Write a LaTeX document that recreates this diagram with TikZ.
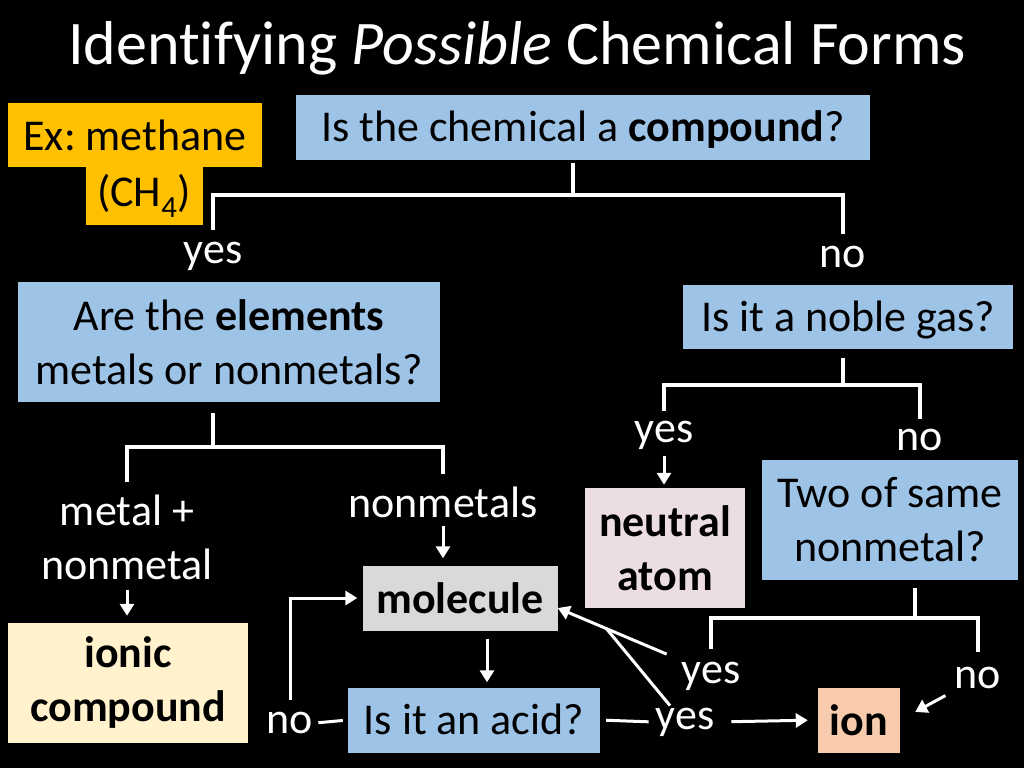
\documentclass[tikz,border=0pt]{standalone}
\usepackage{fontspec}
\setmainfont{Carlito}[Ligatures=NoCommon]
\usetikzlibrary{arrows.meta,calc}
\frenchspacing

\definecolor{qblue}{HTML}{9DC3E6}
\definecolor{exgold}{HTML}{FFC000}
\definecolor{ioniccol}{HTML}{FFF2CC}
\definecolor{atomcol}{HTML}{EBDDE3}
\definecolor{molcol}{HTML}{D9D9D9}
\definecolor{ioncol}{HTML}{F8CBAD}

\tikzstyle{question} = [rectangle, fill=qblue, text=black, align=center,
inner sep=0pt, font=\fontsize{44}{54}\selectfont]
\tikzstyle{oneline} = [text height=35pt, text depth=6pt]
\tikzstyle{result} = [rectangle, text=black, align=center, inner sep=0pt,
font=\fontsize{44}{54}\selectfont\bfseries]
\tikzstyle{example} = [rectangle, fill=exgold, text=black, inner sep=0pt,
font=\fontsize{44}{54}\selectfont]
\tikzstyle{answer} = [text=white, align=center, inner sep=2pt,
font=\fontsize{44}{54}\selectfont]
\tikzstyle{line} = [white, line width=3.5pt]
\tikzstyle{arrow} = [white, line width=3pt, -{Triangle[length=12pt,width=14pt]}]

\begin{document}
\begin{tikzpicture}[x=1pt, y=-1pt]
    \fill [black] (0,0) rectangle (1024,768);

    \node (title) [text=white, font=\fontsize{62}{72}\selectfont] at (517,48)
        {Identifying \textit{Possible} Chemical Forms};
    \node (ex1) [example, minimum width=254pt, minimum height=64pt] at (135,135) {Ex: methane};
    \node (ex2) [example, minimum width=117pt, minimum height=58pt] at (144,196) {(CH\textsubscript{4})};

    \node (compound) [question, oneline, minimum width=574pt, minimum height=65pt] at (583,127)
        {Is the chemical a \textbf{compound}?};
    \node (yes1) [answer] at (213,256) {yes};
    \node (no1) [answer] at (843,257) {no};

    \node (elements) [question, minimum width=422pt, minimum height=120pt] at (229,342)
        {Are the \textbf{elements}\\metals or nonmetals?};
    \node (noble) [question, oneline, minimum width=330pt, minimum height=64pt] at (848,317)
        {Is it a noble gas?};

    \node (mnm) [answer] at (127,537) {metal +\\nonmetal};
    \node (nonmet) [answer] at (443,502) {nonmetals};
    \node (yes2) [answer] at (664,435) {yes};
    \node (no2) [answer] at (920,440) {no};

    \node (ionic) [result, fill=ioniccol, minimum width=240pt, minimum height=120pt] at (128,683)
        {ionic\\compound};
    \node (molecule) [result, fill=molcol, minimum width=195pt, minimum height=65pt] at (460,598)
        {molecule};
    \node (atom) [result, fill=atomcol, minimum width=160pt, minimum height=120pt] at (665,548)
        {neutral\\atom};
    \node (two) [question, minimum width=256pt, minimum height=120pt] at (890,520)
        {Two of same\\nonmetal?};

    \node (yes3) [answer] at (711,676) {yes};
    \node (no3) [answer] at (978,678) {no};
    \node (acid) [question, oneline, minimum width=252pt, minimum height=65pt] at (474,720)
        {Is it an acid?};
    \node (noacid) [answer] at (290,723) {no};
    \node (yesacid) [answer] at (685,722) {yes};
    \node (ion) [result, fill=ioncol, minimum width=82pt, minimum height=65pt] at (859,720)
        {ion};

    \coordinate (fork1) at (573,195);
    \coordinate (fork2) at (213,447);
    \coordinate (fork3) at (843,385);
    \coordinate (fork4) at (915,618);
    \coordinate (molin) at ([yshift=-10pt]molecule.east);

    \draw [line] (compound.south -| fork1) ++(0,3) -- (fork1);
    \draw [line] ([yshift=10pt]yes1.north) |- (fork1) -| ([yshift=10pt]no1.north);
    \draw [line] (elements.south -| fork2) ++(0,11) -- (fork2);
    \draw [line] ([yshift=10pt]mnm.north) |- (fork2) -| ([yshift=10pt]nonmet.north);
    \draw [line] (noble.south -| fork3) ++(0,9) -- (fork3);
    \draw [line] ([yshift=8pt]yes2.north) |- (fork3) -| ([yshift=8pt]no2.north);
    \draw [line] (two.south -| fork4) ++(0,8) -- (fork4);
    \draw [line] ([yshift=11pt]yes3.north) |- (fork4) -| ([yshift=13pt]no3.north);

    \draw [arrow, shorten <=6pt, shorten >=7pt] (nonmet.south) -- (nonmet.south |- molecule.north);
    \draw [arrow, shorten <=8pt, shorten >=7pt] (mnm.south) -- (mnm.south |- ionic.north);
    \draw [arrow, shorten <=5pt, shorten >=3pt] (yes2.south) -- (yes2.south |- atom.north);
    \draw [arrow, shorten <=8pt, shorten >=5pt] ([xshift=27pt]molecule.south)
        -- ([xshift=27pt]molecule.south |- acid.north);
    \draw [line, line width=3pt, shorten <=5pt, shorten >=3pt] (acid.west) -- (noacid.east);
    \draw [arrow, shorten <=10pt, shorten >=5pt] (noacid.north) |- (molecule.west);
    \draw [line, line width=3pt, shorten <=6pt, shorten >=5pt] (acid.east) -- (yesacid.west);
    \draw [arrow, shorten <=15pt, shorten >=10pt] (yesacid.east) -- (ion.west);
    \draw [arrow, shorten <=37pt, shorten >=17pt] (no3.center) -- (ion.east);
    \draw [arrow, shorten <=14pt] (yes3.north west) -- (molin);
    \draw [line, line width=3pt] ([xshift=-15pt]yesacid.north)
        -- ($(yes3.north west)!0.6!(molin)$);
\end{tikzpicture}
\end{document}
